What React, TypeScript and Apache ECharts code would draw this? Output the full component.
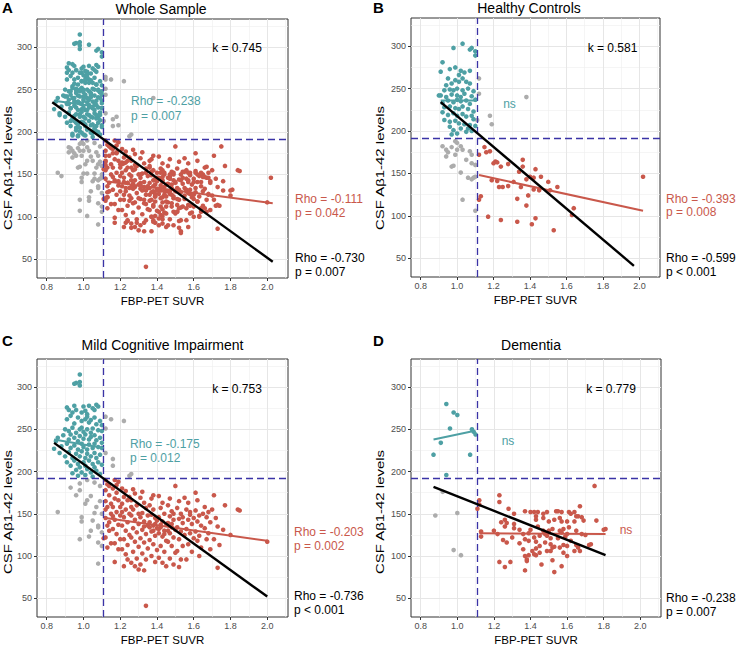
import React, { useEffect, useRef } from "react";
import * as echarts from "echarts";

// ---------- axes ----------
const X_TICKS = [0.8, 1.0, 1.2, 1.4, 1.6, 1.8, 2.0];
const X_MINOR = [0.9, 1.1, 1.3, 1.5, 1.7, 1.9, 2.1];
const Y_TICKS = [50, 100, 150, 200, 250, 300];
const Y_MINOR = [75, 125, 175, 225, 275, 325];
const X_RANGE = [0.747, 2.113];
const Y_RANGE = [27.8, 333.3];
const FBP_CUTOFF = 1.11;
const CSF_CUTOFF = 192;

// ---------- Healthy controls ----------
const hcTeal = [
  [1.03,303],[0.98,298],[1.07,296],[1.08,298],[1.10,289],[1.10,294],[0.92,281],[0.91,270],[0.96,273],[0.99,275],
  [1.02,271],[1.04,269],[1.07,271],[0.95,262],[0.99,260],[1.01,258],[1.03,262],[1.05,258],[1.07,256],[0.93,248],
  [0.96,249],[0.98,248],[1.00,250],[1.03,248],[1.06,250],[1.09,247],[0.91,242],[0.94,240],[0.97,243],[1.00,242],
  [1.02,240],[1.04,244],[1.08,241],[1.10,237],[0.92,233],[0.95,236],[0.98,234],[1.00,237],[1.02,235],[1.05,236],
  [1.07,232],[0.93,228],[0.96,229],[0.99,227],[1.01,226],[1.03,229],[1.06,226],[1.09,223],[0.92,222],[0.95,219],
  [0.98,221],[1.00,218],[1.03,220],[1.05,217],[1.08,218],[1.09,214],[0.93,213],[0.96,211],[0.99,212],[1.01,209],
  [1.04,208],[1.07,207],[1.10,206],[0.96,205],[0.98,201],[1.00,197],[1.02,203],[0.97,196],[1.05,199],[1.06,203],
  [1.08,200],[0.90,242],[0.94,254],[1.01,266],[0.97,256]
];
const hcGrey = [
  [1.12,262],[1.12,244],[1.38,240],[1.18,218],[1.19,208],[1.11,213],[0.92,182],[0.94,178],[0.95,175],[0.97,181],
  [0.99,188],[1.00,186],[1.02,182],[0.94,170],[0.99,172],[1.00,178],[1.03,178],[1.05,166],[1.07,176],[1.08,172],
  [1.08,162],[0.97,158],[0.98,159],[1.02,151],[1.06,145],[1.08,143],[1.09,145],[1.10,146],[1.03,119],[1.10,106],
  [1.10,160]
];
const hcRed = [
  [1.15,181],[1.16,175],[1.18,176],[1.12,172],[1.20,162],[1.21,164],[1.22,163],[1.24,158],[1.28,161],[1.36,166],
  [1.36,158],[1.34,152],[1.43,155],[1.40,146],[1.38,143],[1.42,145],[1.46,146],[1.50,140],[1.55,134],[1.51,130],
  [1.19,142],[1.22,141],[1.23,134],[1.25,134],[1.28,135],[1.31,140],[1.35,134],[1.42,131],[1.39,124],[1.45,130],
  [1.13,123],[1.12,119],[1.33,120],[1.38,112],[1.64,109],[1.63,101],[1.17,99],[1.24,95],[1.33,93],[1.41,90],
  [1.43,97],[1.53,83],[2.02,146]
];

// ---------- Mild cognitive impairment ----------
const mciTeal = [
  [0.98,315],[0.95,304],[0.96,305],[0.98,306],[0.98,302],
  [0.91,276],[0.92,273],[0.95,278],[0.96,273],[1.00,277],[1.01,272],[1.03,278],[1.05,275],[1.07,279],[1.06,273],
  [1.08,277],[0.94,270],[0.99,270],[1.02,268],
  [0.91,262],[0.93,266],[0.95,257],[0.97,264],[0.99,260],[1.01,262],[1.03,258],[1.04,261],[1.06,264],[1.07,256],
  [1.09,260],[1.02,265],
  [0.90,250],[0.92,248],[0.94,252],[0.96,246],[0.98,250],[0.99,252],[1.00,247],[1.02,250],[1.04,246],[1.05,251],
  [1.08,249],[1.10,248],[1.10,255],
  [0.86,240],[0.89,243],[0.92,238],[0.93,244],[0.95,240],[0.97,236],[0.98,242],[1.00,239],[1.01,244],[1.03,238],
  [1.04,241],[1.06,243],[1.07,237],[1.09,240],
  [0.84,227],[0.85,236],[0.88,230],[0.91,233],[0.93,228],[0.95,231],[0.97,226],[0.99,233],[1.00,229],[1.02,226],
  [1.03,232],[1.05,228],[1.06,233],[1.08,229],[1.10,228],[1.10,234],
  [0.87,222],[0.90,218],[0.92,223],[0.94,216],[0.96,221],[0.98,218],[0.99,224],[1.01,216],[1.02,221],[1.04,218],
  [1.06,222],[1.07,216],[1.09,220],
  [0.91,211],[0.93,207],[0.95,213],[0.97,209],[0.98,205],[1.00,211],[1.01,207],[1.03,213],[1.05,209],[1.06,205],
  [1.08,211],[1.10,208],
  [0.94,198],[0.96,202],[0.97,195],[0.99,199],[1.01,196],[1.02,203],[1.04,199],[1.05,194],[1.07,201],[1.09,197]
];
const mciGrey = [
  [1.12,265],[1.15,262],[1.22,260],[1.12,251],[1.16,215],[1.16,207],[1.25,195],[1.26,197],[1.12,222],[0.93,181],
  [0.98,186],[0.98,178],[1.06,187],[1.02,190],[1.09,183],[1.01,162],[1.02,166],[1.04,171],[1.06,151],[1.07,158],
  [1.09,165],[0.99,146],[0.99,141],[1.08,134],[1.08,136],[1.10,128],[0.98,120],[1.03,123],[1.08,116],[1.10,112],
  [1.08,91],[0.86,152],[1.05,142],[1.10,150],[0.96,172],[1.04,130]
];
const mciRed = [
  [1.12,190],[1.13,185],[1.12,178],[1.14,172],[1.12,165],[1.13,158],[1.15,150],[1.12,145],[1.13,136],[1.14,130],
  [1.12,122],[1.15,115],[1.13,110],[1.11,121],[1.14,183],[1.15,162],[1.12,155],[1.14,140],
  [1.17,190],[1.19,188],[1.16,180],[1.18,175],[1.17,168],[1.19,166],[1.16,158],[1.18,152],[1.20,148],[1.17,143],
  [1.19,137],[1.16,132],[1.18,126],[1.20,120],[1.17,115],[1.19,108],[1.17,93],[1.16,147],[1.20,158],[1.18,184],
  [1.21,180],[1.23,177],[1.22,170],[1.24,166],[1.21,162],[1.23,155],[1.25,150],[1.22,146],[1.24,140],[1.21,136],
  [1.23,130],[1.25,125],[1.22,120],[1.24,113],[1.21,108],[1.23,102],[1.24,96],[1.22,88],[1.25,170],[1.21,152],
  [1.27,179],[1.28,174],[1.26,166],[1.29,160],[1.27,155],[1.26,148],[1.28,143],[1.30,138],[1.27,133],[1.29,128],
  [1.26,122],[1.28,117],[1.30,111],[1.27,105],[1.29,97],[1.26,92],[1.28,88],[1.30,84],[1.26,158],[1.30,150],
  [1.32,176],[1.31,169],[1.33,163],[1.34,157],[1.32,151],[1.31,146],[1.33,141],[1.35,136],[1.32,131],[1.34,126],
  [1.31,121],[1.33,116],[1.35,109],[1.32,103],[1.34,96],[1.31,90],[1.33,83],[1.34,41],[1.35,148],[1.33,135],
  [1.37,168],[1.36,160],[1.38,155],[1.37,149],[1.39,145],[1.36,140],[1.38,136],[1.40,133],[1.37,129],[1.39,124],
  [1.36,119],[1.38,114],[1.40,107],[1.37,100],[1.39,93],[1.38,130],[1.36,134],[1.40,142],[1.38,172],[1.39,138],
  [1.41,171],[1.43,163],[1.42,157],[1.44,150],[1.41,146],[1.43,141],[1.45,138],[1.42,134],[1.44,130],[1.41,127],
  [1.43,123],[1.45,118],[1.42,112],[1.44,105],[1.41,98],[1.43,92],[1.45,88],[1.42,137],[1.44,126],[1.41,132],
  [1.47,168],[1.46,160],[1.48,153],[1.47,147],[1.49,143],[1.46,139],[1.48,134],[1.50,131],[1.47,127],[1.49,122],
  [1.46,117],[1.48,112],[1.50,104],[1.47,97],[1.49,90],[1.48,138],[1.46,130],[1.50,183],[1.49,150],
  [1.52,165],[1.51,157],[1.53,150],[1.52,144],[1.54,139],[1.51,134],[1.53,129],[1.55,125],[1.52,120],[1.54,112],
  [1.51,106],[1.53,96],[1.52,87],[1.55,169],[1.54,146],
  [1.57,163],[1.56,155],[1.58,149],[1.57,143],[1.59,138],[1.56,132],[1.58,127],[1.60,121],[1.57,114],[1.59,105],
  [1.56,96],[1.58,152],[1.60,145],
  [1.61,175],[1.62,166],[1.61,154],[1.63,148],[1.62,141],[1.64,136],[1.61,129],[1.63,124],[1.62,118],[1.64,110],
  [1.63,100],[1.65,150],
  [1.66,158],[1.68,152],[1.67,146],[1.69,140],[1.66,133],[1.68,127],[1.67,120],[1.69,108],[1.70,155],
  [1.71,172],[1.72,145],[1.73,135],[1.71,120],[1.74,113],[1.73,86],[1.77,160],[1.84,155],[1.85,154],[1.76,131],
  [1.80,125],[2.00,117]
];

// ---------- Dementia ----------
const demTeal = [
  [0.94,280],[0.98,270],[1.00,267],[0.96,251],[0.91,234],[0.87,220],[1.07,220],[0.94,196],[1.08,250],[1.09,247],
  [1.10,244]
];
const demGrey = [[0.92,176],[0.88,148],[1.00,151],[0.98,107],[1.02,101]];
const demRed = [
  [1.75,183],[1.23,172],[1.23,164],[1.12,166],[1.12,161],[1.11,156],[1.28,156],[1.31,150],[1.37,153],[1.40,152],
  [1.42,152],[1.44,152],[1.47,150],[1.49,152],[1.54,153],[1.55,153],[1.57,152],[1.61,152],[1.64,152],[1.67,159],
  [1.65,147],[1.68,146],[1.69,142],[1.76,142],[1.26,143],[1.27,139],[1.26,135],[1.31,138],[1.31,133],[1.20,130],
  [1.22,126],[1.24,140],[1.34,131],[1.36,126],[1.43,143],[1.43,147],[1.47,145],[1.50,141],[1.53,143],[1.56,145],
  [1.57,141],[1.60,141],[1.62,150],[1.64,141],[1.66,147],[1.40,131],[1.44,135],[1.47,130],[1.50,130],[1.52,132],
  [1.56,130],[1.57,128],[1.58,132],[1.61,134],[1.65,130],[1.68,126],[1.70,125],[1.13,129],[1.13,123],[1.39,127],
  [1.42,122],[1.45,124],[1.48,126],[1.49,124],[1.51,121],[1.55,121],[1.59,123],[1.60,126],[1.25,119],[1.27,116],
  [1.30,122],[1.34,115],[1.37,120],[1.39,118],[1.43,117],[1.45,112],[1.48,116],[1.51,114],[1.53,111],[1.56,110],
  [1.58,113],[1.62,118],[1.65,113],[1.66,110],[1.72,113],[1.73,114],[1.81,132],[1.80,131],[1.36,108],[1.39,101],
  [1.41,106],[1.43,109],[1.45,104],[1.49,106],[1.51,106],[1.52,110],[1.60,112],[1.64,106],[1.67,106],[1.58,104],
  [1.37,100],[1.38,96],[1.38,94],[1.42,102],[1.43,101],[1.46,90],[1.52,95],[1.53,81],[1.57,88],[1.60,100],
  [1.23,93],[1.26,87],[1.29,93],[1.37,83]
];

// ---------- Whole sample = union of the three groups ----------
const wholeTeal = [...hcTeal, ...mciTeal, ...demTeal];
const wholeGrey = [...hcGrey, ...mciGrey, ...demGrey];
const wholeRed = [...hcRed, ...mciRed, ...demRed];

// ---------- fitted lines (end points) ----------
const fitA_teal = [[0.84,237],[1.11,229]];
const fitA_red = [[1.12,142],[2.03,116]];
const fitA_all = [[0.83,235],[2.03,47]];
const fitB_teal = [[0.91,236],[1.11,236]];
const fitB_red = [[1.12,148],[2.02,106]];
const fitB_all = [[0.91,234],[1.97,41]];
const fitC_teal = [[0.84,238],[1.11,228]];
const fitC_red = [[1.12,145],[2.00,118]];
const fitC_all = [[0.84,234],[2.00,52]];
const fitD_teal = [[0.87,238],[1.09,248]];
const fitD_red = [[1.12,127],[1.81,126]];
const fitD_all = [[0.87,182],[1.81,101]];

const TEAL = "#4ea0a4";
const RED = "#c9584b";
const GREY = "#acacac";
const DASH = "#3a33a6";
const FONT = "'Liberation Sans', Arial, Helvetica, sans-serif";

type Note = { t: string; x: number; y: number; c: string; a: string };

const PANELS = [
  {
    title: "Whole Sample", letter: "A", titlePos: [161, 8.5], letterPos: [2, 7.5], yTitlePos: [8, 168],
    grid: { left: 37, top: 19, width: 251, height: 259 },
    teal: wholeTeal, grey: wholeGrey, red: wholeRed, fits: [fitA_teal, fitA_red, fitA_all],
    notes: [
      { t: "k = 0.745", x: 237, y: 48, c: "#000", a: "center" },
      { t: "Rho = -0.238", x: 131, y: 101, c: TEAL, a: "left" },
      { t: "p = 0.007", x: 131, y: 115.5, c: TEAL, a: "left" },
      { t: "Rho = -0.111", x: 295, y: 199, c: RED, a: "left" },
      { t: "p = 0.042", x: 295, y: 212.5, c: RED, a: "left" },
      { t: "Rho = -0.730", x: 295, y: 258, c: "#000", a: "left" },
      { t: "p = 0.007", x: 295, y: 271.5, c: "#000", a: "left" },
    ] as Note[],
  },
  {
    title: "Healthy Controls", letter: "B", titlePos: [529, 8], letterPos: [373, 7.5], yTitlePos: [380, 168],
    grid: { left: 411, top: 18, width: 249, height: 259 },
    teal: hcTeal, grey: hcGrey, red: hcRed, fits: [fitB_teal, fitB_red, fitB_all],
    notes: [
      { t: "k = 0.581", x: 612.5, y: 48, c: "#000", a: "center" },
      { t: "ns", x: 509.5, y: 104, c: TEAL, a: "center" },
      { t: "Rho = -0.393", x: 666, y: 198.5, c: RED, a: "left" },
      { t: "p = 0.008", x: 666, y: 212, c: RED, a: "left" },
      { t: "Rho = -0.599", x: 666, y: 258, c: "#000", a: "left" },
      { t: "p < 0.001", x: 666, y: 271.5, c: "#000", a: "left" },
    ] as Note[],
  },
  {
    title: "Mild Cognitive Impairment", letter: "C", titlePos: [162.5, 345], letterPos: [2, 340], yTitlePos: [8, 512],
    grid: { left: 37, top: 359, width: 251, height: 260 },
    teal: mciTeal, grey: mciGrey, red: mciRed, fits: [fitC_teal, fitC_red, fitC_all],
    notes: [
      { t: "k = 0.753", x: 237, y: 388.5, c: "#000", a: "center" },
      { t: "Rho = -0.175", x: 130, y: 443.5, c: TEAL, a: "left" },
      { t: "p = 0.012", x: 130, y: 457.5, c: TEAL, a: "left" },
      { t: "Rho = -0.203", x: 294, y: 532, c: RED, a: "left" },
      { t: "p = 0.002", x: 294, y: 546, c: RED, a: "left" },
      { t: "Rho = -0.736", x: 294, y: 596, c: "#000", a: "left" },
      { t: "p < 0.001", x: 294, y: 610, c: "#000", a: "left" },
    ] as Note[],
  },
  {
    title: "Dementia", letter: "D", titlePos: [531, 345], letterPos: [373, 340], yTitlePos: [380, 512],
    grid: { left: 411, top: 359, width: 250, height: 259 },
    teal: demTeal, grey: demGrey, red: demRed, fits: [fitD_teal, fitD_red, fitD_all],
    notes: [
      { t: "k = 0.779", x: 611, y: 388.5, c: "#000", a: "center" },
      { t: "ns", x: 508, y: 441, c: TEAL, a: "center" },
      { t: "ns", x: 626, y: 530, c: RED, a: "center" },
      { t: "Rho = -0.238", x: 666, y: 598, c: "#000", a: "left" },
      { t: "p = 0.007", x: 666, y: 611.5, c: "#000", a: "left" },
    ] as Note[],
  },
];

function buildOption() {
  const grid: any[] = [];
  const xAxis: any[] = [];
  const yAxis: any[] = [];
  const series: any[] = [];
  const graphic: any[] = [];

  PANELS.forEach((p, i) => {
    grid.push({ ...p.grid, show: true, borderColor: "#333", borderWidth: 1, backgroundColor: "#fff" });
    xAxis.push({
      gridIndex: i, type: "value", min: X_RANGE[0], max: X_RANGE[1],
      axisLine: { show: false, onZero: false },
      axisTick: { show: true, customValues: X_TICKS, length: 3, lineStyle: { color: "#333" } },
      axisLabel: { customValues: X_TICKS, formatter: (v: number) => v.toFixed(1), fontSize: 9, color: "#4d4d4d", margin: 4, fontFamily: FONT },
      splitLine: { show: false },
      name: "FBP-PET SUVR", nameLocation: "middle", nameGap: 17,
      nameTextStyle: { fontSize: 11.5, color: "#000", fontFamily: FONT },
    });
    yAxis.push({
      gridIndex: i, type: "value", min: Y_RANGE[0], max: Y_RANGE[1],
      axisLine: { show: false, onZero: false },
      axisTick: { show: true, customValues: Y_TICKS, length: 3, lineStyle: { color: "#333" } },
      axisLabel: { customValues: Y_TICKS, fontSize: 9, color: "#4d4d4d", margin: 5, fontFamily: FONT },
      splitLine: { show: false },
    });

    const gridLines = [
      ...X_MINOR.map((v) => ({ xAxis: v, lineStyle: { color: "#efefef", width: 0.6, type: "solid" } })),
      ...Y_MINOR.map((v) => ({ yAxis: v, lineStyle: { color: "#efefef", width: 0.6, type: "solid" } })),
      ...X_TICKS.map((v) => ({ xAxis: v, lineStyle: { color: "#e6e6e6", width: 1, type: "solid" } })),
      ...Y_TICKS.map((v) => ({ yAxis: v, lineStyle: { color: "#e6e6e6", width: 1, type: "solid" } })),
    ];
    series.push({
      type: "scatter", xAxisIndex: i, yAxisIndex: i, data: [], silent: true, z: 1,
      markLine: { z: 1, silent: true, symbol: ["none", "none"], label: { show: false }, animation: false, data: gridLines },
    });

    const pts = (data: number[][], color: string) => ({
      type: "scatter", xAxisIndex: i, yAxisIndex: i, data, symbolSize: 4.6, silent: true, z: 2,
      itemStyle: { color, opacity: 1 },
    });
    series.push(pts(p.grey, GREY), pts(p.teal, TEAL), pts(p.red, RED));

    series.push({
      type: "scatter", xAxisIndex: i, yAxisIndex: i, data: [], silent: true, z: 3,
      markLine: {
        z: 3, silent: true, symbol: ["none", "none"], label: { show: false }, animation: false,
        lineStyle: { color: DASH, width: 1.3, type: [7, 4] },
        data: [{ xAxis: FBP_CUTOFF }, { yAxis: CSF_CUTOFF }],
      },
    });

    const fitColors = [TEAL, RED, "#000"];
    const fitWidths = [2, 2, 2.4];
    p.fits.forEach((f, k) => {
      series.push({
        type: "line", xAxisIndex: i, yAxisIndex: i, data: f, showSymbol: false, symbol: "none", silent: true,
        z: 4, lineStyle: { color: fitColors[k], width: fitWidths[k] },
      });
    });

    graphic.push({
      type: "text", x: p.titlePos[0], y: p.titlePos[1],
      style: { text: p.title, fontSize: 14, fontFamily: FONT, fill: "#000", align: "center", verticalAlign: "middle" },
    });
    graphic.push({
      type: "text", x: p.letterPos[0], y: p.letterPos[1],
      style: { text: p.letter, fontSize: 15, fontWeight: "bold", fontFamily: FONT, fill: "#000", align: "left", verticalAlign: "middle" },
    });
    graphic.push({
      type: "text", x: p.yTitlePos[0], y: p.yTitlePos[1], rotation: Math.PI / 2, scaleX: 1.3,
      style: { text: "CSF A\u03b21-42 levels", fontSize: 11.5, fontFamily: FONT, fill: "#000", align: "center", verticalAlign: "middle" },
    });
    p.notes.forEach((n) => {
      graphic.push({
        type: "text", x: n.x, y: n.y, z: 10,
        style: { text: n.t, fontSize: 12, fontFamily: FONT, fill: n.c, align: n.a, verticalAlign: "middle" },
      });
    });
  });

  return {
    animation: false,
    backgroundColor: "#fff",
    textStyle: { fontFamily: FONT },
    grid, xAxis, yAxis, series, graphic,
  };
}

export default function App() {
  const ref = useRef<HTMLDivElement>(null);
  useEffect(() => {
    document.body.style.margin = "0";
    if (!ref.current) return;
    const chart = echarts.init(ref.current, null, { renderer: "svg" });
    chart.setOption(buildOption() as any);
    return () => chart.dispose();
  }, []);
  return <div ref={ref} style={{ width: 736, height: 647 }} />;
}
